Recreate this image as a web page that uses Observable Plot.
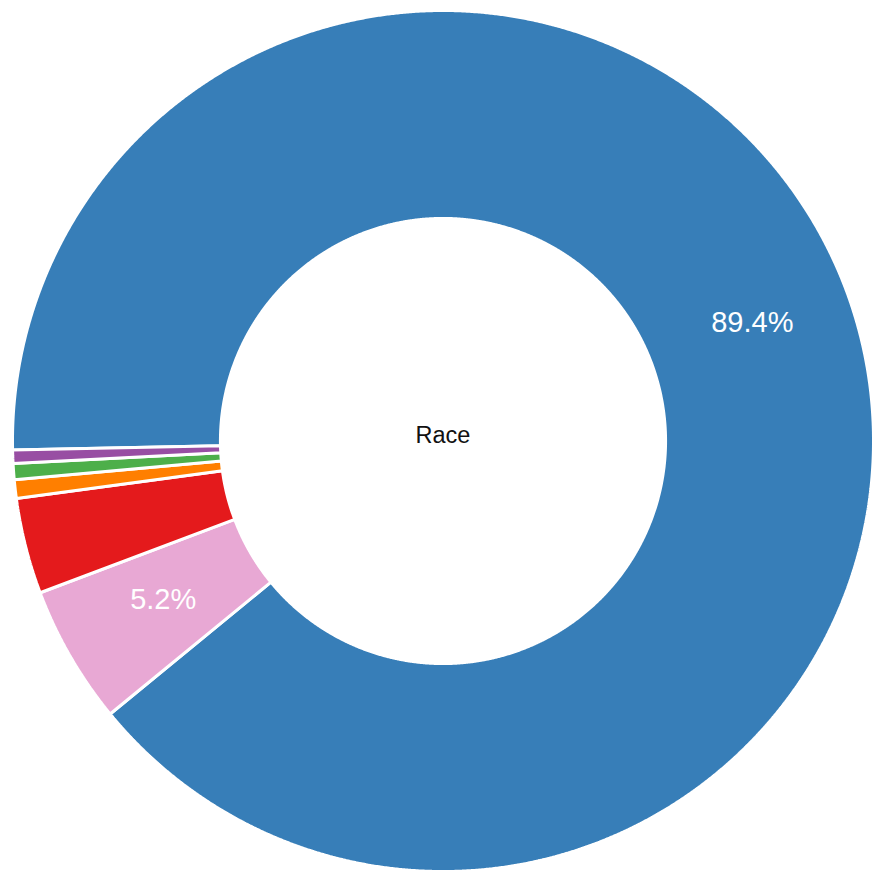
<!DOCTYPE html>
<html>
<head>
<meta charset="utf-8">
<script src="https://cdn.jsdelivr.net/npm/d3@7"></script>
<script src="https://cdn.jsdelivr.net/npm/@observablehq/plot@0.6"></script>
<style>
  html, body { margin: 0; padding: 0; background: #ffffff; }
</style>
</head>
<body>
<div id="chart"></div>
<script>
// ---- data ----
const categories = ["Group 1", "Group 2", "Group 3", "Group 4", "Group 5", "Group 6"];
const shares = [89.4, 5.2, 3.6, 0.7, 0.6, 0.5];
const colors = ["#377eb8", "#e8a8d4", "#e41a1c", "#ff7f00", "#4daf4a", "#984ea3"];
const centerTitle = "Race";
const labelThreshold = 5; // only slices >= 5% get a label

// ---- layout ----
const startAngleDeg = -91.2;   // clockwise from 12 o'clock
const innerRatio = 0.517;
const stepDeg = 0.2;

const total = d3.sum(shares);
let acc = startAngleDeg;
const slices = categories.map((c, i) => {
  const span = shares[i] / total * 360;
  const s = {category: c, share: shares[i], color: colors[i], a0: acc, a1: acc + span};
  acc += span;
  return s;
});

const rad = (deg) => deg * Math.PI / 180;
const polyPoints = [];
for (const s of slices) {
  const n = Math.max(2, Math.ceil((s.a1 - s.a0) / stepDeg));
  for (let k = 0; k <= n; k++) {
    const a = rad(s.a0 + (s.a1 - s.a0) * k / n);
    polyPoints.push({category: s.category, x: Math.sin(a), y: Math.cos(a)});
  }
  for (let k = n; k >= 0; k--) {
    const a = rad(s.a0 + (s.a1 - s.a0) * k / n);
    polyPoints.push({category: s.category, x: innerRatio * Math.sin(a), y: innerRatio * Math.cos(a)});
  }
}

const labelR = (1 + innerRatio) / 2;
const labels = slices.filter(s => s.share >= labelThreshold).map(s => {
  const a = rad((s.a0 + s.a1) / 2);
  return {x: labelR * Math.sin(a), y: labelR * Math.cos(a), text: s.share.toFixed(1) + "%"};
});

const chart = Plot.plot({
  width: 875,
  height: 872,
  marginLeft: 12,
  marginRight: 2,
  marginTop: 10,
  marginBottom: 1,
  x: {domain: [-1, 1], axis: null},
  y: {domain: [-1, 1], axis: null},
  color: {domain: categories, range: colors},
  style: {fontFamily: "'Helvetica Neue', Helvetica, Arial, 'Liberation Sans', sans-serif", background: "#ffffff"},
  marks: [
    Plot.line(polyPoints, {
      x: "x", y: "y", z: "category", fill: "category",
      stroke: "#ffffff", strokeWidth: 3, strokeLinejoin: "miter",
      curve: "linear-closed"
    }),
    Plot.text(labels, {x: "x", y: "y", text: "text", fill: "#ffffff", fontSize: 29, dx: 3, dy: -5}),
    Plot.text([centerTitle], {x: () => 0, y: () => 0, text: d => d, fill: "#111111", fontSize: 23.5, dy: -6})
  ]
});
document.getElementById("chart").appendChild(chart);
</script>
</body>
</html>
